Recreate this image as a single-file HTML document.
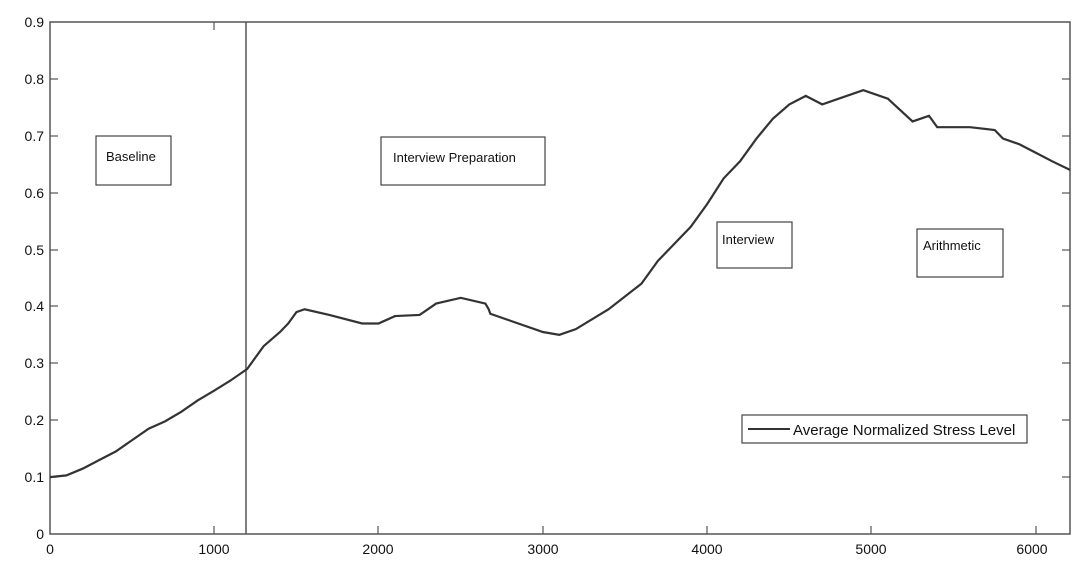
<!DOCTYPE html><html><head><style>body{margin:0;background:#fff}svg{font-family:"Liberation Sans",sans-serif}</style></head><body>
<svg width="1089" height="571" xmlns="http://www.w3.org/2000/svg">
<rect x="50" y="22" width="1020" height="512" fill="none" stroke="#555" stroke-width="1.5"/>
<g stroke="#555" stroke-width="1.2">
<line x1="50" y1="477" x2="58" y2="477"/><line x1="50" y1="420" x2="58" y2="420"/><line x1="50" y1="363" x2="58" y2="363"/><line x1="50" y1="306" x2="58" y2="306"/><line x1="50" y1="250" x2="58" y2="250"/><line x1="50" y1="193" x2="58" y2="193"/><line x1="50" y1="136" x2="58" y2="136"/><line x1="50" y1="79" x2="58" y2="79"/>
<line x1="1062" y1="477" x2="1070" y2="477"/><line x1="1062" y1="420" x2="1070" y2="420"/><line x1="1062" y1="363" x2="1070" y2="363"/><line x1="1062" y1="306" x2="1070" y2="306"/><line x1="1062" y1="250" x2="1070" y2="250"/><line x1="1062" y1="193" x2="1070" y2="193"/><line x1="1062" y1="136" x2="1070" y2="136"/><line x1="1062" y1="79" x2="1070" y2="79"/>
<line x1="214" y1="534" x2="214" y2="526"/><line x1="378" y1="534" x2="378" y2="526"/><line x1="543" y1="534" x2="543" y2="526"/><line x1="707" y1="534" x2="707" y2="526"/><line x1="871" y1="534" x2="871" y2="526"/><line x1="1036" y1="534" x2="1036" y2="526"/>
<line x1="214" y1="22" x2="214" y2="30"/>
<line x1="246" y1="22" x2="246" y2="534" stroke-width="1.5"/>
</g>
<g font-size="14" fill="#111" text-anchor="end">
<text x="44" y="539">0</text><text x="44" y="482">0.1</text><text x="44" y="425">0.2</text><text x="44" y="368">0.3</text><text x="44" y="311">0.4</text><text x="44" y="255">0.5</text><text x="44" y="198">0.6</text><text x="44" y="141">0.7</text><text x="44" y="84">0.8</text><text x="44" y="27">0.9</text>
</g>
<g font-size="14" fill="#111" text-anchor="middle">
<text x="50" y="554">0</text><text x="214" y="554">1000</text><text x="378" y="554">2000</text><text x="543" y="554">3000</text><text x="707" y="554">4000</text><text x="871" y="554">5000</text><text x="1032" y="554">6000</text>
</g>
<path transform="translate(50,534) scale(0.1643,-569)" vector-effect="non-scaling-stroke" fill="none" stroke="#333" stroke-width="2.2" d="M0,0.1 L100,0.103 200,0.115 300,0.13 400,0.145 500,0.165 600,0.185 700,0.198 800,0.215 900,0.235 1000,0.252 1100,0.27 1200,0.29 1300,0.33 1400,0.355 1450,0.37 1500,0.39 1550,0.395 1700,0.385 1900,0.37 2000,0.37 2100,0.383 2250,0.385 2350,0.405 2500,0.415 2650,0.405 2670,0.395 2680,0.387 2800,0.375 3000,0.355 3100,0.35 3200,0.36 3400,0.395 3600,0.44 3700,0.48 3900,0.54 4000,0.58 4100,0.625 4200,0.655 4300,0.695 4400,0.73 4500,0.755 4600,0.77 4700,0.755 4800,0.765 4950,0.78 5100,0.765 5250,0.725 5350,0.735 5400,0.715 5600,0.715 5750,0.71 5800,0.695 5900,0.685 6000,0.67 6100,0.655 6208,0.64"/>
<g fill="#fff" stroke="#444" stroke-width="1.2">
<rect x="96" y="136" width="75" height="49"/><rect x="381" y="137" width="164" height="48"/><rect x="717" y="222" width="75" height="46"/><rect x="917" y="229" width="86" height="48"/><rect x="742" y="415" width="285" height="28"/>
</g>
<line x1="748" y1="429" x2="790" y2="429" stroke="#333" stroke-width="2"/>
<g font-size="13" fill="#111">
<text x="106" y="161">Baseline</text><text x="393" y="162">Interview Preparation</text><text x="722" y="244">Interview</text><text x="923" y="250">Arithmetic</text>
<text x="793" y="435" font-size="15">Average Normalized Stress Level</text>
</g>
</svg></body></html>
